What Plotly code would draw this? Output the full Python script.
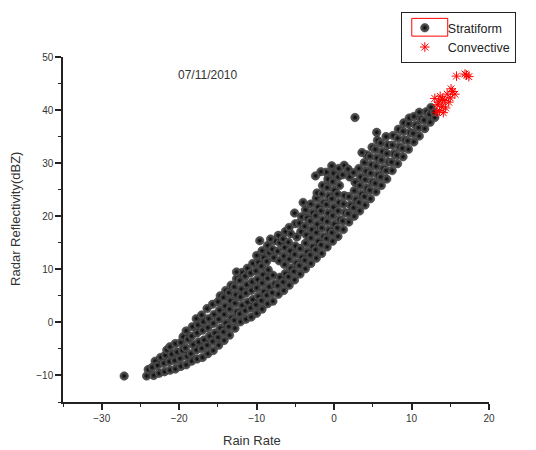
import plotly.graph_objects as go

# stratiform points in three stretches plus stray points
low_x = [-24.2, -24.0, -23.3, -23.5, -23.1, -22.6, -22.8, -22.4, -21.9, -22.0, -21.8, -21.6,
         -21.2, -21.3, -21.0, -21.2, -20.5, -20.6, -20.3, -20.5, -19.8, -19.9, -19.6, -19.8, -19.5,
         -19.1, -19.0, -19.2, -18.9, -19.1, -18.4, -18.5, -18.2, -18.4, -18.3,
         -17.7, -17.8, -17.5, -17.7, -17.6, -17.8, -17.0, -17.1, -16.8, -17.0, -16.9, -17.1,
         -16.3, -16.4, -16.1, -16.3, -16.2, -16.4, -15.6, -15.7, -15.4, -15.6, -15.5, -15.7,
         -14.9, -15.0, -14.7, -14.9, -14.8, -15.0, -14.7, -14.2, -14.3, -14.0, -14.2, -14.1, -14.3, -14.0,
         -13.5, -13.6, -13.3, -13.5, -13.4, -13.6, -13.3, -12.8, -12.9, -12.6, -12.8, -12.7, -12.9, -12.6,
         -12.1, -12.2, -11.9, -12.1, -12.0, -12.2, -11.9, -11.4, -11.5, -11.2, -11.4, -11.3, -11.5, -11.2,
         -10.7, -10.8, -10.5, -10.7, -10.6, -10.8, -10.5]
low_y = [-10.1, -8.9, -10.0, -8.5, -7.3, -9.6, -8.1, -6.6, -9.3, -7.7, -6.2, -5.2,
         -9.0, -7.4, -6.0, -4.6, -8.8, -7.2, -5.6, -4.0, -8.3, -6.8, -5.3, -3.8, -2.7,
         -8.0, -6.4, -4.8, -3.2, -1.6, -7.3, -5.9, -4.2, -2.6, -0.8,
         -6.9, -5.2, -3.7, -2.0, -0.5, 0.7, -6.6, -4.9, -3.3, -1.5, 0.1, 1.4,
         -5.9, -4.3, -2.6, -1.0, 0.7, 2.6, -5.3, -3.6, -2.0, -0.2, 1.5, 3.4,
         -4.3, -2.8, -1.1, 0.6, 2.3, 3.9, 5.0, -3.4, -1.8, -0.1, 1.5, 3.1, 4.7, 6.0,
         -2.4, -0.8, 0.9, 2.5, 4.1, 5.6, 7.0, -1.1, 0.4, 2.0, 3.6, 5.2, 6.7, 8.2,
         0.1, 1.6, 3.2, 4.8, 6.3, 7.9, 9.4, 0.6, 2.2, 3.8, 5.5, 7.1, 8.7, 10.2,
         1.0, 2.7, 4.3, 6.0, 7.6, 9.3, 11.1]

mid_x = [-10.0, -10.1, -9.8, -10.0, -9.9, -10.1, -9.8, -10.0,
         -9.3, -9.4, -9.1, -9.3, -9.2, -9.4, -9.1, -9.3,
         -8.6, -8.7, -8.4, -8.6, -8.5, -8.7, -8.4, -8.6,
         -7.9, -8.0, -7.7, -7.9, -7.8, -8.0, -7.7,
         -7.2, -7.3, -7.0, -7.1, -7.3, -7.0, -7.2,
         -6.5, -6.6, -6.3, -6.5, -6.4, -6.6, -6.3, -6.4,
         -5.8, -5.9, -5.6, -5.8, -5.7, -5.9, -5.6, -5.8,
         -5.1, -5.2, -4.9, -5.1, -5.0, -4.8, -5.0,
         -4.4, -4.5, -4.2, -4.4, -4.3, -4.5, -4.2,
         -3.7, -3.8, -3.5, -3.7, -3.6, -3.8, -3.5, -3.7,
         -3.0, -3.1, -2.8, -3.0, -2.9, -3.1, -2.8, -3.0,
         -2.3, -2.4, -2.1, -2.3, -2.2, -2.4, -2.1, -2.3, -2.2,
         -1.6, -1.7, -1.4, -1.6, -1.5, -1.7, -1.4, -1.6, -1.5,
         -0.9, -1.0, -0.7, -0.9, -0.8, -1.0, -0.7, -0.9, -0.8, -1.0,
         -0.2, -0.3, 0.0, -0.2, -0.1, -0.3, 0.0, -0.2, -0.1, -0.3]
mid_y = [1.7, 3.3, 4.9, 6.5, 8.1, 9.7, 11.3, 12.6,
         2.5, 4.1, 5.8, 7.4, 9.0, 10.6, 12.2, 13.5,
         3.5, 5.1, 6.7, 8.3, 9.9, 11.5, 13.1, 14.5,
         4.0, 5.6, 7.3, 8.9, 12.2, 13.8, 15.4,
         5.3, 6.9, 8.5, 11.6, 13.4, 15.0, 16.4,
         6.0, 7.6, 9.2, 12.5, 14.1, 15.7, 17.1, 10.9,
         7.0, 8.6, 10.2, 11.9, 13.5, 15.1, 16.7, 17.9,
         8.0, 9.6, 11.2, 12.8, 14.4, 16.1, 18.6,
         9.1, 10.7, 12.3, 13.9, 17.1, 18.7, 19.9,
         10.1, 11.7, 13.3, 14.9, 16.5, 18.1, 19.7, 21.2,
         11.1, 12.7, 14.3, 15.9, 17.5, 19.1, 20.7, 22.3,
         12.1, 13.7, 15.3, 16.9, 18.5, 20.1, 21.8, 23.4, 24.4,
         13.0, 14.6, 16.2, 17.8, 19.4, 21.0, 22.6, 24.2, 25.8,
         14.2, 15.8, 17.4, 19.0, 20.6, 22.2, 23.8, 25.4, 27.0, 28.3,
         15.3, 16.9, 18.5, 20.1, 21.7, 23.3, 24.9, 26.5, 28.1, 29.5]

high_x = [0.5, 0.4, 0.7, 0.5, 0.6, 0.4, 0.7, 0.5, 0.6,
          1.2, 1.1, 1.4, 1.2, 1.3, 1.1, 1.3,
          1.9, 1.8, 2.1, 1.9, 2.0, 1.8,
          2.6, 2.5, 2.8, 2.6, 2.7, 2.5,
          3.3, 3.2, 3.5, 3.3, 3.4, 3.2,
          4.0, 3.9, 4.2, 4.0, 4.1, 3.9, 4.2,
          4.7, 4.6, 4.9, 4.7, 4.8, 4.6, 4.9,
          5.4, 5.3, 5.6, 5.4, 5.5, 5.3, 5.6, 5.5,
          6.1, 6.0, 6.3, 6.1, 6.2, 6.0,
          6.8, 6.7, 7.0, 6.8, 6.9, 6.7,
          7.5, 7.4, 7.7, 7.5, 7.6,
          8.2, 8.1, 8.4, 8.2, 8.3,
          8.9, 8.8, 9.1, 8.9, 9.0,
          9.6, 9.5, 9.8, 9.6, 9.7,
          10.3, 10.2, 10.5, 10.3,
          11.0, 10.9, 11.2, 11.0,
          11.7, 11.6, 11.9,
          12.4, 12.3, 12.5,
          13.0, 12.9]
high_y = [16.2, 17.8, 19.4, 21.0, 22.6, 24.2, 25.8, 27.4, 29.0,
          17.5, 19.1, 20.7, 22.3, 23.9, 27.8, 29.6,
          18.9, 20.5, 22.1, 23.7, 27.4, 28.9,
          20.0, 21.6, 23.2, 24.8, 26.4, 28.2,
          21.0, 22.6, 24.2, 25.8, 27.4, 29.0,
          22.1, 23.7, 25.3, 26.9, 28.5, 30.1, 31.6,
          23.3, 24.9, 26.5, 28.1, 29.7, 31.3, 33.0,
          24.6, 26.2, 27.8, 29.4, 31.0, 32.6, 34.3, 35.8,
          25.8, 27.4, 29.0, 30.6, 32.2, 33.8,
          27.0, 28.6, 30.2, 31.8, 33.4, 35.0,
          28.6, 30.2, 31.8, 33.4, 35.2,
          29.9, 31.5, 33.1, 34.7, 36.4,
          31.2, 32.8, 34.4, 36.0, 37.6,
          32.6, 34.2, 35.8, 37.4, 38.5,
          34.0, 35.6, 37.2, 38.8,
          35.1, 36.7, 38.3, 39.6,
          36.5, 38.1, 39.7,
          37.7, 39.2, 40.5,
          38.6, 39.6]

stray_x = [-27.1, 2.7, 3.6, -4.0, -12.6, -9.6, -1.7, -5.1, -8.2, -2.4]
stray_y = [-10.1, 38.6, 32.0, 22.6, 9.5, 15.4, 28.4, 20.6, 15.7, 27.6]

conv_x = [13.0, 13.3, 13.6, 13.9, 14.2, 13.2, 13.7, 14.4, 14.8, 14.1, 15.0,
          15.3, 15.6, 14.6, 15.1, 15.8, 17.1, 17.4, 13.5, 14.0, 16.9]
conv_y = [42.2, 41.0, 39.9, 40.7, 41.8, 39.6, 42.6, 40.4, 41.5, 39.5, 42.3,
          43.5, 43.0, 43.0, 44.0, 46.4, 46.6, 46.3, 41.5, 42.0, 46.8]

strat_x = low_x + mid_x + high_x + stray_x
strat_y = low_y + mid_y + high_y + stray_y

FONT = "Liberation Sans, Arial, sans-serif"

fig = go.Figure()
fig.add_trace(go.Scatter(
    x=strat_x, y=strat_y, mode="markers", name="Stratiform",
    marker=dict(symbol="circle", size=8.5, color="#6a6a6a",
                gradient=dict(type="radial", color="#000000"),
                line=dict(color="#000000", width=0.4)),
))
fig.add_trace(go.Scatter(
    x=conv_x, y=conv_y, mode="markers", name="Convective",
    marker=dict(symbol="asterisk", size=8, color="#ff0000",
                line=dict(color="#ff0000", width=1)),
))

fig.update_layout(
    width=536, height=450,
    margin=dict(l=63, r=47, t=54, b=48),
    plot_bgcolor="white", paper_bgcolor="white",
    font=dict(family=FONT, color="#333333"),
    showlegend=True,
    legend=dict(x=0.793, y=1.13, xanchor="left", yanchor="top",
                bordercolor="#222222", borderwidth=1, bgcolor="rgba(0,0,0,0)",
                font=dict(family=FONT, size=12.5, color="#222222"),
                itemwidth=36, tracegroupgap=0),
)

fig.update_xaxes(
    range=[-35, 20], tick0=0, dtick=10, ticks="outside", ticklen=6, tickwidth=1.5,
    tickcolor="#222222", showline=True, linecolor="#222222", linewidth=1.5,
    showgrid=False, zeroline=False,
    tickfont=dict(family=FONT, size=10, color="#333333"),
    minor=dict(dtick=5, tick0=0, ticks="outside", ticklen=3, tickwidth=1.2, tickcolor="#222222"),
)
fig.update_yaxes(
    range=[-15, 50], tick0=0, dtick=10, ticks="outside", ticklen=6, tickwidth=1.5,
    tickcolor="#222222", showline=True, linecolor="#222222", linewidth=1.5,
    showgrid=False, zeroline=False,
    tickfont=dict(family=FONT, size=10, color="#333333"),
    minor=dict(dtick=5, tick0=0, ticks="outside", ticklen=3, tickwidth=1.2, tickcolor="#222222"),
)

# axis titles and the date label
fig.add_annotation(text="Rain Rate", xref="paper", yref="paper", x=0.444, y=-0.113,
                   xanchor="center", yanchor="middle",
                   showarrow=False, font=dict(family=FONT, size=13, color="#333333"))
fig.add_annotation(text="Radar Reflectivity(dBZ)", xref="paper", yref="paper", x=-0.11, y=0.531,
                   xanchor="center", yanchor="middle",
                   textangle=-90, showarrow=False, font=dict(family=FONT, size=13, color="#333333"))
fig.add_annotation(text="07/11/2010", x=-16.4, y=46.7, showarrow=False,
                   font=dict(family=FONT, size=12, color="#333333"))

# red selection box around the first legend symbol
fig.add_shape(type="rect", xref="paper", yref="paper", x0=0.8187, x1=0.9031, y0=1.0605, y1=1.112,
              line=dict(color="#ff0000", width=1))

# drop the browser's default 8px body margin so the figure sits at the window corner
fig.write_html("out.html", config={"displayModeBar": False},
               post_script="document.body.style.margin='0';")
